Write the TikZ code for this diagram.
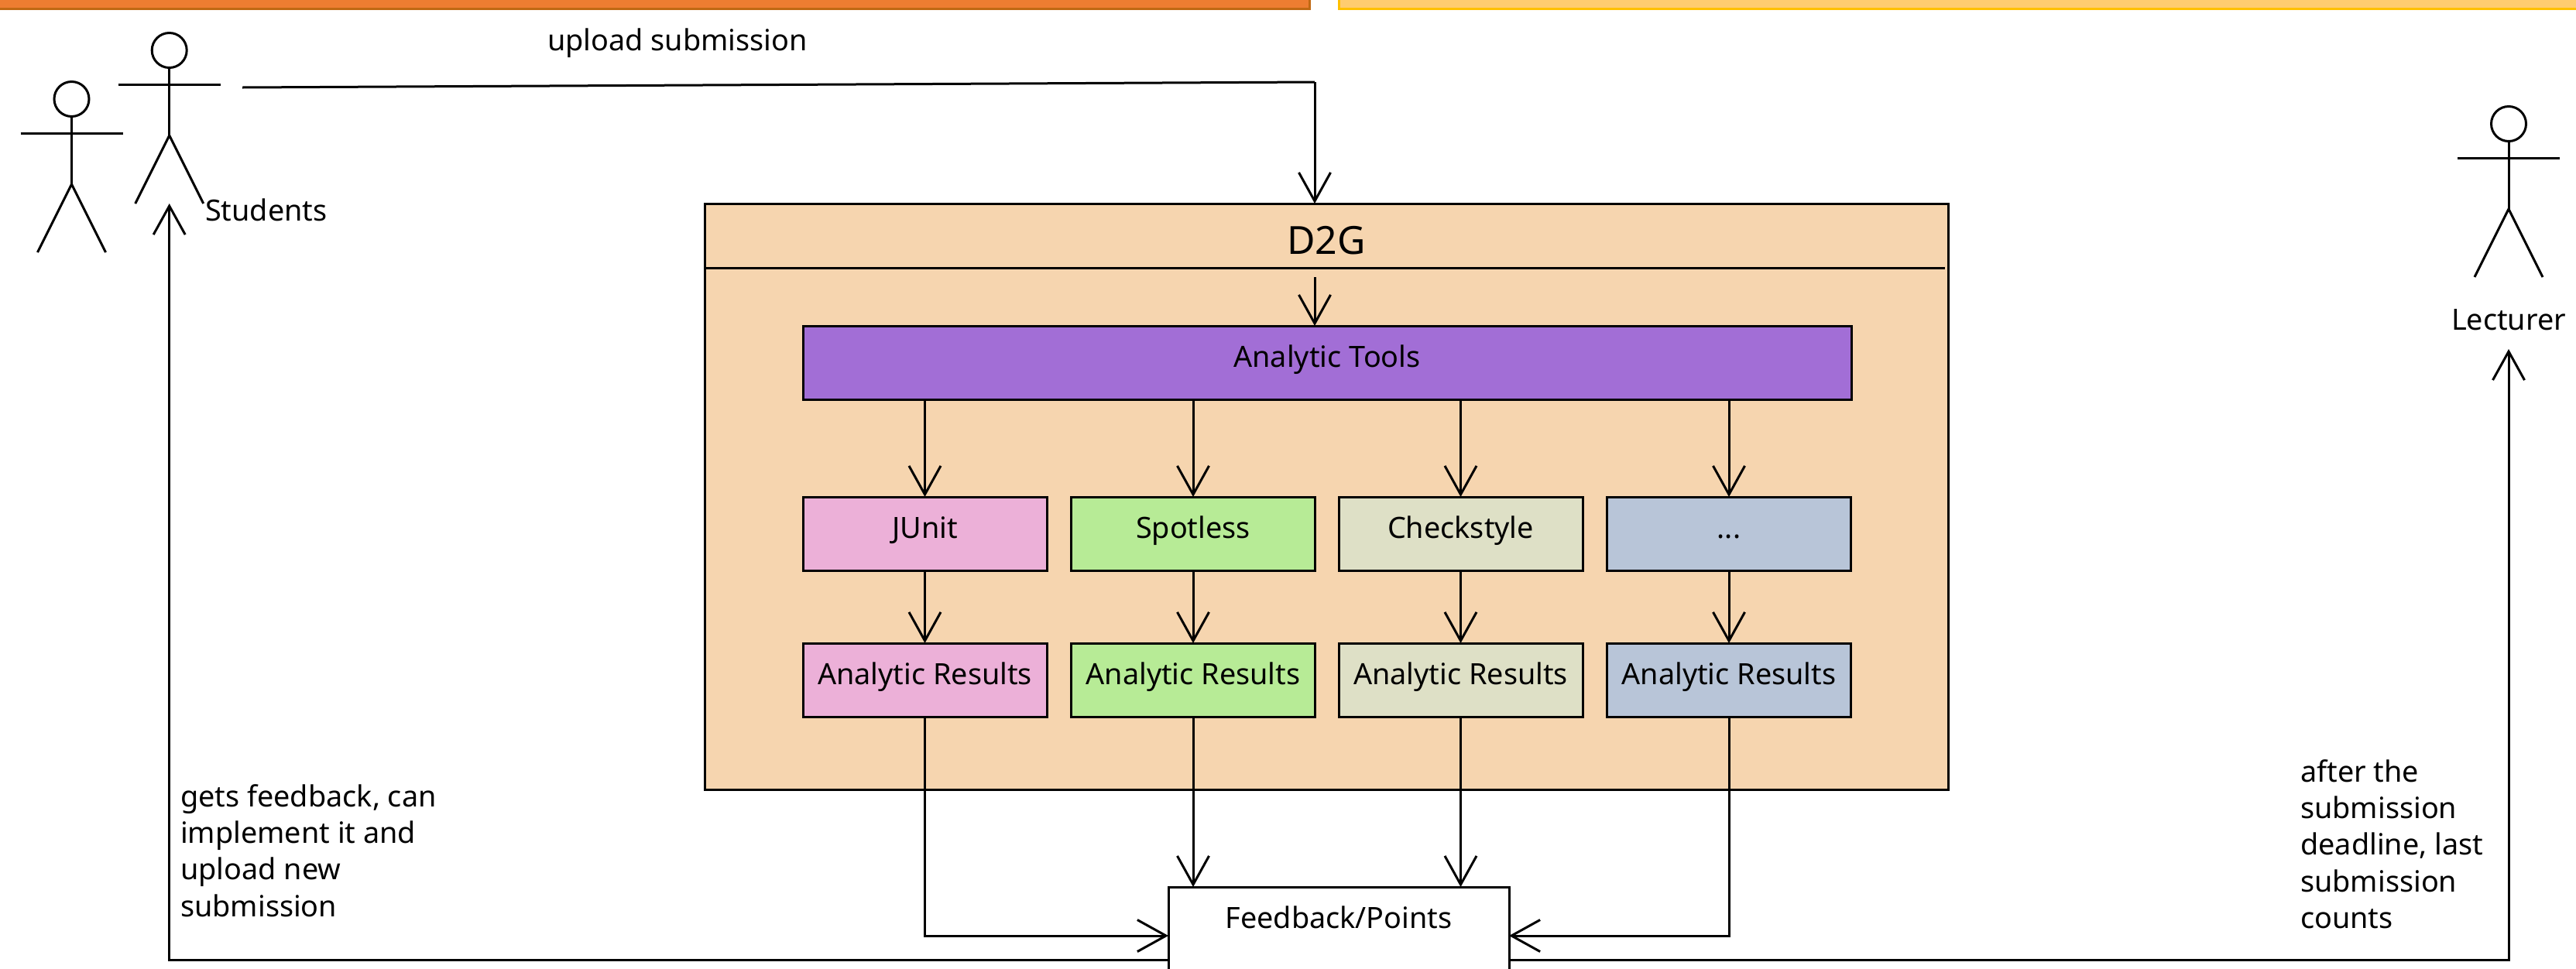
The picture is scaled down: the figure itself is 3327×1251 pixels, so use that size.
\documentclass[tikz,border=0pt]{standalone}
\usepackage{fontspec}
\setmainfont{Noto Sans}
\usetikzlibrary{arrows.meta}
\definecolor{peach}{HTML}{F6D5AF}
\definecolor{toolviolet}{HTML}{A26ED6}
\definecolor{junitpink}{HTML}{ECB0D8}
\definecolor{spotgreen}{HTML}{B7EB96}
\definecolor{checkkhaki}{HTML}{DEE0C6}
\definecolor{otherblue}{HTML}{B8C5D8}
\newcommand{\labelfont}{\fontsize{37.8}{47.3}\selectfont}
\tikzstyle{tool} = [rectangle, inner sep=0pt, outer sep=0pt, minimum width=315pt, text height=53pt, text depth=42pt, text centered, draw=black, line width=3pt, font=\labelfont]
\tikzstyle{label} = [inner sep=0pt, align=left, font=\labelfont]
\tikzstyle{line} = [line width=3pt]
\tikzstyle{arrow} = [line width=3pt, -{Straight Barb[length=37pt,width=41pt,line width=3pt]}]
\begin{document}
\begin{tikzpicture}[x=1pt,y=-1pt,node distance=189pt]
        \useasboundingbox (0,0) rectangle (3327,1251);
        \clip (0,0) rectangle (3327,1251);

        % Balken oben
        \draw [line width=3pt, draw=black!25!orange!70!brown, fill={rgb,255:red,237;green,125;blue,49}] (-5,-5) rectangle (1691,11);
        \draw [line width=3pt, draw={rgb,255:red,255;green,192;blue,0}, fill={rgb,255:red,255;green,204;blue,112}] (1729,-5) rectangle (3335,11);

        % Akteure
        \foreach \name/\x/\y in {studentback/92.5/128, student/218.7/65, lecturer/3240/160} {
            \node (\name) [circle, draw=black, line width=3pt, minimum size=45pt, inner sep=0pt, outer sep=0pt] at (\x,\y) {};
            \draw [line] (\name.south) -- ++(0,88);
            \draw [line] (\x-66,\y+44) -- (\x+66,\y+44);
            \draw [line, line join=round] (\x-44,\y+198) -- (\x,\y+110) -- (\x+44,\y+198);
        }

        \node (d2g) [rectangle, inner sep=0pt, outer sep=0pt, minimum width=1606pt, text height=65pt, text depth=692pt, text centered, draw=black, line width=3pt, fill=peach, font=\fontsize{50}{60}\selectfont] at (1713,641.5) {D2G};
        \coordinate (headerleft) at (910,346);
        \coordinate (headerright) at (2512,346);
        \draw [line] (headerleft) -- (headerright);

        \node (tools) [tool, minimum width=1354pt, fill=toolviolet] at (1714,468.5) {Analytic Tools};

        \node (junit) [tool, fill=junitpink] at (1194.5,689.5) {JUnit};
        \node (spotless) [tool, fill=spotgreen] at (1541,689.5) {Spotless};
        \node (checkstyle) [tool, fill=checkkhaki] at (1886.5,689.5) {Checkstyle};
        \node (others) [tool, fill=otherblue] at (2233,689.5) {...};

        \node (resjunit) [tool, fill=junitpink, below of=junit] {Analytic Results};
        \node (resspotless) [tool, fill=spotgreen, below of=spotless] {Analytic Results};
        \node (rescheckstyle) [tool, fill=checkkhaki, below of=checkstyle] {Analytic Results};
        \node (resothers) [tool, fill=otherblue, below of=others] {Analytic Results};

        \node (feedback) [tool, minimum width=440pt, text depth=73pt, fill=white] at (1729,1209) {Feedback/Points};

        \node (upload) [label, anchor=base west] at (707,65) {upload submission};
        \node (students) [label, anchor=base west] at (265,285) {Students};
        \node (lecturertext) [label, anchor=base] at (3240,426) {Lecturer};
        \node (getsfeedback) [label, anchor=north west] at (233,1013) {gets feedback, can\\implement it and\\upload new\\submission};
        \node (afterdeadline) [label, anchor=north west] at (2971,981) {after the\\submission\\deadline, last\\submission\\counts};

        % Pfeile
        \coordinate (uploadstart) at (313,113);
        \coordinate (uploadcorner) at (1698,106);
        \coordinate (toolsin) at (1698,358);
        \coordinate (feedbackleft) at (1509,1240);
        \coordinate (feedbackright) at (1949,1240);
        \coordinate (studentsin) at (218.7,263);
        \coordinate (lecturerin) at (3240,451);

        \draw [line, line join=miter] (uploadstart) -- (uploadcorner);
        \draw [arrow] (uploadcorner) -- (uploadcorner |- d2g.north);
        \draw [arrow] (toolsin) -- (toolsin |- tools.north);

        \foreach \tool in {junit, spotless, checkstyle, others} {
            \draw [arrow] (\tool |- tools.south) -- (\tool.north);
        }
        \draw [arrow] (junit.south) -- (resjunit.north);
        \draw [arrow] (spotless.south) -- (resspotless.north);
        \draw [arrow] (checkstyle.south) -- (rescheckstyle.north);
        \draw [arrow] (others.south) -- (resothers.north);

        \draw [arrow] (resspotless.south) -- (resspotless.south |- feedback.north);
        \draw [arrow] (rescheckstyle.south) -- (rescheckstyle.south |- feedback.north);
        \draw [arrow] (resjunit.south) |- (feedback.west);
        \draw [arrow] (resothers.south) |- (feedback.east);

        \draw [arrow] (feedbackleft) -| (studentsin);
        \draw [arrow] (feedbackright) -| (lecturerin);

    \end{tikzpicture}
\end{document}
